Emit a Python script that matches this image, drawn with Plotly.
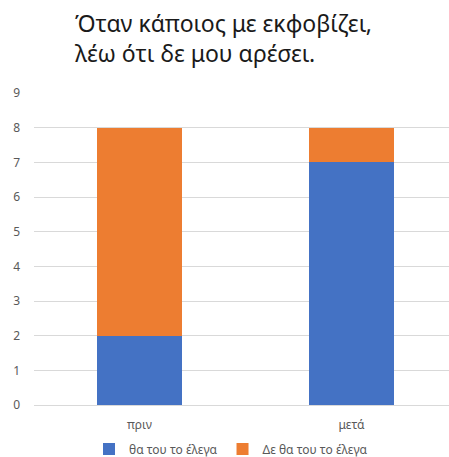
import plotly.graph_objects as go

categories = ["πριν", "μετά"]
series_names = ["θα του το έλεγα", "Δε θα του το έλεγα"]
would_tell = [2, 7]
would_not_tell = [6, 1]
colors = ["#4472C4", "#ED7D31"]
y_ticks = list(range(0, 10))
title_text = "Όταν κάποιος με εκφοβίζει,<br>λέω ότι δε μου αρέσει."

W, H = 449, 457
L, R, T, B = 34, 0, 93, 52
PW, PH = W - L - R, H - T - B

fig = go.Figure()
for name, vals, col in zip(series_names, [would_tell, would_not_tell], colors):
    fig.add_trace(go.Bar(x=categories, y=vals, name=name, marker=dict(color=col, line=dict(width=0)),
                         width=0.40))

fig.add_annotation(text=title_text, xref="paper", yref="paper", x=(73 - L) / PW, xanchor="left",
                   y=(H - B - 5) / PH, yanchor="top", align="left", showarrow=False,
                   font=dict(size=23, color="#1a1a1a", family="Noto Sans, Open Sans, sans-serif"))

fig.update_layout(
    width=W, height=H,
    margin=dict(l=L, r=R, t=T, b=B, autoexpand=False),
    barmode="stack",
    plot_bgcolor="white", paper_bgcolor="white",
    font=dict(family="Noto Sans, Open Sans, sans-serif", color="#595959", size=12),
    showlegend=True,
    legend=dict(orientation="h", x=(89 - L) / PW, xanchor="left", yref="container",
                y=1 - 449 / H, yanchor="middle",
                font=dict(size=12, color="#595959"), itemwidth=30,
                traceorder="normal"),
    xaxis=dict(range=[-0.4976, 1.46], showgrid=False, showline=False, zeroline=False,
               ticks="", tickfont=dict(size=12, color="#595959"), ticklabelstandoff=11),
    yaxis=dict(range=[0, 9], tickvals=y_ticks, showgrid=True, gridcolor="#d9d9d9", gridwidth=1,
               zeroline=True, zerolinecolor="#d9d9d9", zerolinewidth=1, showline=False,
               ticks="", tickfont=dict(size=12, color="#595959"), ticklabelstandoff=13),
    bargap=0,
)

fig.write_html("out.html")
